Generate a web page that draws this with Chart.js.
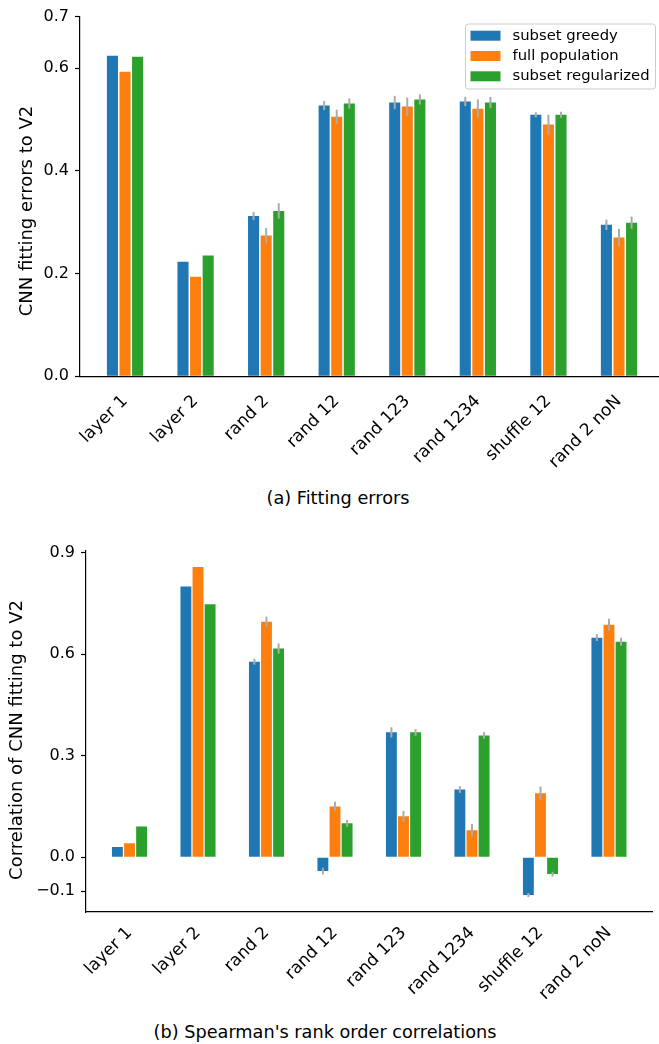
<!DOCTYPE html>
<html>
<head>
<meta charset="utf-8">
<title>CNN fitting to V2</title>
<script src="https://cdn.jsdelivr.net/npm/chart.js@4.4.1/dist/chart.umd.min.js"></script>
<style>
  body { margin: 0; background: #fff; }
  #page { position: relative; width: 659px; height: 1044px; overflow: hidden; font-family: "DejaVu Sans", sans-serif; }
  .panel { position: absolute; left: 0; width: 659px; }
  .caption { position: absolute; white-space: nowrap; transform: translateX(-50%); font-size: 17.7px; line-height: 20px; color: #000; }
</style>
</head>
<body>
<div id="page">
  <div class="panel" style="top:0; height:480px;"><canvas id="fitChart" width="659" height="480"></canvas></div>
  <div class="caption" style="left:338px; top:488px;">(a) Fitting errors</div>
  <div class="panel" style="top:520px; height:490px;"><canvas id="corrChart" width="659" height="490"></canvas></div>
  <div class="caption" style="left:325px; top:1022px;">(b) Spearman's rank order correlations</div>
</div>
<script>
// categories and series
const categories = ['layer 1', 'layer 2', 'rand 2', 'rand 12', 'rand 123', 'rand 1234', 'shuffle 12', 'rand 2 noN'];
const seriesNames = ['subset greedy', 'full population', 'subset regularized'];
const seriesColors = ['#1f77b4', '#ff7f0e', '#2ca02c'];

// (a) fitting errors
const fitGreedy = [0.624, 0.223, 0.312, 0.527, 0.533, 0.535, 0.509, 0.295];
const fitFull = [0.593, 0.194, 0.274, 0.505, 0.525, 0.521, 0.490, 0.270];
const fitReg = [0.622, 0.235, 0.322, 0.531, 0.539, 0.533, 0.509, 0.299];
const fitGreedyErr = [0, 0, 0.008, 0.009, 0.013, 0.009, 0.005, 0.010];
const fitFullErr = [0, 0, 0.015, 0.014, 0.018, 0.018, 0.019, 0.017];
const fitRegErr = [0, 0, 0.015, 0.010, 0.010, 0.011, 0.006, 0.012];
const fitTicks = [0, 0.2, 0.4, 0.6, 0.7];

// (b) spearman correlations
const corrGreedy = [0.030, 0.800, 0.578, -0.041, 0.369, 0.200, -0.112, 0.649];
const corrFull = [0.041, 0.858, 0.696, 0.150, 0.121, 0.080, 0.189, 0.687];
const corrReg = [0.091, 0.748, 0.617, 0.100, 0.369, 0.360, -0.050, 0.637];
const corrGreedyErr = [0, 0, 0.009, 0.010, 0.015, 0.010, 0.006, 0.010];
const corrFullErr = [0, 0, 0.015, 0.014, 0.016, 0.018, 0.020, 0.018];
const corrRegErr = [0, 0, 0.015, 0.010, 0.010, 0.010, 0.007, 0.012];
const corrTicks = [-0.1, 0, 0.3, 0.6, 0.9];

const FONT = '"DejaVu Sans", sans-serif';

function makeDatasets(vals, errs, barPct, catPct) {
    return vals.map((v, k) => ({
        label: seriesNames[k],
        data: categories.map((c, i) => ({ x: i, y: v[i] })),
        errors: errs[k],
        backgroundColor: seriesColors[k],
        borderWidth: 0,
        barPercentage: barPct,
        categoryPercentage: catPct
    }));
}

function fmtTick(v) {
    const s = Math.abs(v).toFixed(1);
    return v < 0 ? '\u2212' + s : s;
}

function xScale(min, max, height, pad) {
    return {
        type: 'linear',
        min: min,
        max: max,
        offset: false,
        afterBuildTicks: s => { s.ticks = categories.map((c, i) => ({ value: i })); },
        afterFit: s => { s.height = height; },
        grid: { display: false, offset: false },
        border: { display: true, color: '#000', width: 1.2 },
        ticks: {
            autoSkip: false, minRotation: 45, maxRotation: 45, padding: pad,
            color: '#000', font: { family: FONT, size: 17 },
            callback: v => categories[v]
        }
    };
}

function yScale(min, max, tickVals, width) {
    return {
        min: min,
        max: max,
        afterBuildTicks: s => { s.ticks = tickVals.map(v => ({ value: v })); },
        afterFit: s => { s.width = width; },
        grid: { display: true, drawOnChartArea: false, drawTicks: true, tickLength: 5, tickWidth: 1.2, tickColor: '#000' },
        border: { display: true, color: '#000', width: 1.2 },
        ticks: { padding: 6, color: '#000', font: { family: FONT, size: 16 }, callback: v => fmtTick(v) }
    };
}

// grey error bars on top of each bar
const errorBars = {
    id: 'errorBars',
    afterDatasetsDraw(chart) {
        const ctx = chart.ctx;
        const y = chart.scales.y;
        ctx.save();
        ctx.strokeStyle = '#ababab';
        ctx.lineWidth = 2;
        chart.data.datasets.forEach((ds, k) => {
            chart.getDatasetMeta(k).data.forEach((bar, i) => {
                const e = ds.errors[i];
                if (!e) return;
                const v = ds.data[i].y;
                ctx.beginPath();
                ctx.moveTo(bar.x, y.getPixelForValue(v - e));
                ctx.lineTo(bar.x, y.getPixelForValue(v + e));
                ctx.stroke();
            });
        });
        ctx.restore();
    }
};

// rotated y axis title at a fixed spot
const sideTitle = {
    id: 'sideTitle',
    afterDraw(chart, args, opts) {
        if (!opts.text) return;
        const ctx = chart.ctx;
        ctx.save();
        ctx.translate(opts.x, opts.y);
        ctx.rotate(-Math.PI / 2);
        ctx.font = opts.size + 'px ' + FONT;
        ctx.fillStyle = '#000';
        ctx.textAlign = 'center';
        ctx.textBaseline = 'middle';
        ctx.fillText(opts.text, 0, 0);
        ctx.restore();
    }
};

// matplotlib style legend box in the upper right
const boxLegend = {
    id: 'boxLegend',
    afterDraw(chart, args, opts) {
        if (!opts.show) return;
        const ctx = chart.ctx;
        ctx.save();
        ctx.fillStyle = 'rgba(255,255,255,0.8)';
        ctx.strokeStyle = '#cccccc';
        ctx.lineWidth = 1;
        ctx.beginPath();
        ctx.roundRect(opts.x, opts.y, opts.w, opts.h, 3);
        ctx.fill();
        ctx.stroke();
        ctx.font = opts.size + 'px ' + FONT;
        ctx.textBaseline = 'middle';
        chart.data.datasets.forEach((ds, k) => {
            const cy = opts.y + 11.7 + k * 20.3;
            ctx.fillStyle = ds.backgroundColor;
            ctx.fillRect(opts.x + 5, cy - 5, 30, 10);
            ctx.fillStyle = '#000';
            ctx.fillText(ds.label, opts.x + 47, cy);
        });
        ctx.restore();
    }
};

Chart.defaults.font.family = FONT;

new Chart(document.getElementById('fitChart'), {
    type: 'bar',
    data: { datasets: makeDatasets([fitGreedy, fitFull, fitReg], [fitGreedyErr, fitFullErr, fitRegErr], 0.88, 0.535) },
    options: {
        responsive: false,
        animation: false,
        layout: { padding: { top: 16.7, left: 0, right: 0, bottom: 0 } },
        scales: {
            x: xScale(-0.638, 7.567, 103.7, 7),
            y: yScale(0, 0.7, fitTicks, 80)
        },
        plugins: {
            legend: { display: false },
            tooltip: { enabled: false },
            sideTitle: { text: 'CNN fitting errors to V2', x: 27, y: 211, size: 18 },
            boxLegend: { show: true, x: 465.5, y: 24, w: 190, h: 65, size: 14.8 }
        }
    },
    plugins: [errorBars, sideTitle, boxLegend]
});

new Chart(document.getElementById('corrChart'), {
    type: 'bar',
    data: { datasets: makeDatasets([corrGreedy, corrFull, corrReg], [corrGreedyErr, corrFullErr, corrRegErr], 0.9, 0.53) },
    options: {
        responsive: false,
        animation: false,
        layout: { padding: { top: 30.7, left: 0, right: 7, bottom: 0 } },
        scales: {
            x: xScale(-0.635, 7.628, 98, 3),
            y: yScale(-0.162, 0.906, corrTicks, 86)
        },
        plugins: {
            legend: { display: false },
            tooltip: { enabled: false },
            sideTitle: { text: 'Correlation of CNN fitting to V2', x: 17, y: 220, size: 18 },
            boxLegend: { show: false }
        }
    },
    plugins: [errorBars, sideTitle, boxLegend]
});
</script>
</body>
</html>
